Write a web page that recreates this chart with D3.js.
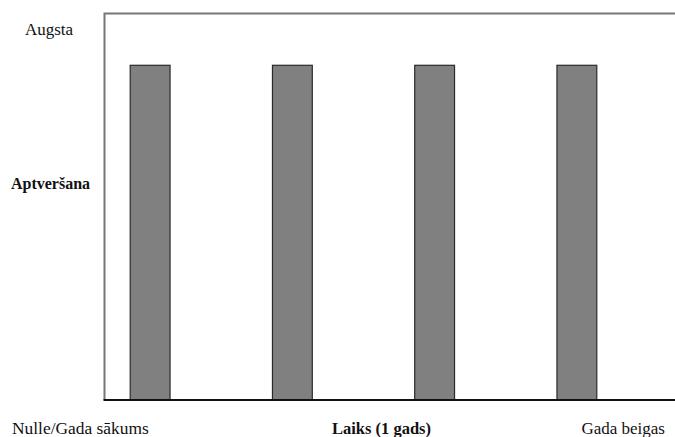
<!DOCTYPE html>
<html><head><meta charset="utf-8">
<script src="https://cdn.jsdelivr.net/npm/d3@7"></script>
<style>body{margin:0;background:#fff}svg{display:block}text{font-family:"Liberation Serif","Times New Roman",serif;fill:#111}</style>
</head><body><svg id="c" width="675" height="437"></svg>
<script>
const categories = ["Q1", "Q2", "Q3", "Q4"];
const values = [0.866, 0.866, 0.866, 0.866];
const yLabels = [{v: 0.96, t: "Augsta", bold: false}];
const yTitle = "Aptveršana";
const xLabels = ["Nulle/Gada sākums", "Gada beigas"];
const xTitle = "Laiks (1 gads)";

const svg = d3.select("#c");
const L = 104.5, T = 13.5, B = 400, R = 676;
const x = d3.scaleBand().domain(categories).range([79, 648]).paddingInner(0.72).paddingOuter(0.36);
const y = d3.scaleLinear().domain([0, 1]).range([B, T]);

// frame (left + top)
svg.append("path").attr("d", `M${L},${B} V${T} H${R}`).attr("fill", "none").attr("stroke", "#777").attr("stroke-width", 2);

// bars
svg.selectAll("rect.bar").data(values).join("rect").attr("class", "bar")
  .attr("x", (d, i) => x(categories[i]))
  .attr("y", d => y(d))
  .attr("width", x.bandwidth())
  .attr("height", d => y(0) - y(d))
  .attr("fill", "#808080").attr("stroke", "#2a2a2a").attr("stroke-width", 1.2);

// bottom axis line
svg.append("line").attr("x1", L - 1).attr("x2", R).attr("y1", B).attr("y2", B).attr("stroke", "#111").attr("stroke-width", 2);

// y labels
svg.selectAll("text.yl").data(yLabels).join("text").attr("class", "yl")
  .attr("x", 49).attr("y", d => y(d.v)).attr("dy", "0.35em").attr("text-anchor", "middle")
  .attr("font-size", 17).text(d => d.t);
svg.append("text").attr("x", 50.5).attr("y", y(0.56)).attr("dy", "0.35em").attr("text-anchor", "middle")
  .attr("font-size", 16).attr("font-weight", "bold").text(yTitle);

// x labels
svg.append("text").attr("x", 12).attr("y", 428).attr("dy", "0.35em").attr("font-size", 17.4).text(xLabels[0]);
svg.append("text").attr("x", 665).attr("y", 428).attr("dy", "0.35em").attr("text-anchor", "end").attr("font-size", 17).text(xLabels[1]);
svg.append("text").attr("x", 381.5).attr("y", 428).attr("dy", "0.35em").attr("text-anchor", "middle").attr("font-size", 16.5).attr("font-weight", "bold").text(xTitle);
</script></body></html>
